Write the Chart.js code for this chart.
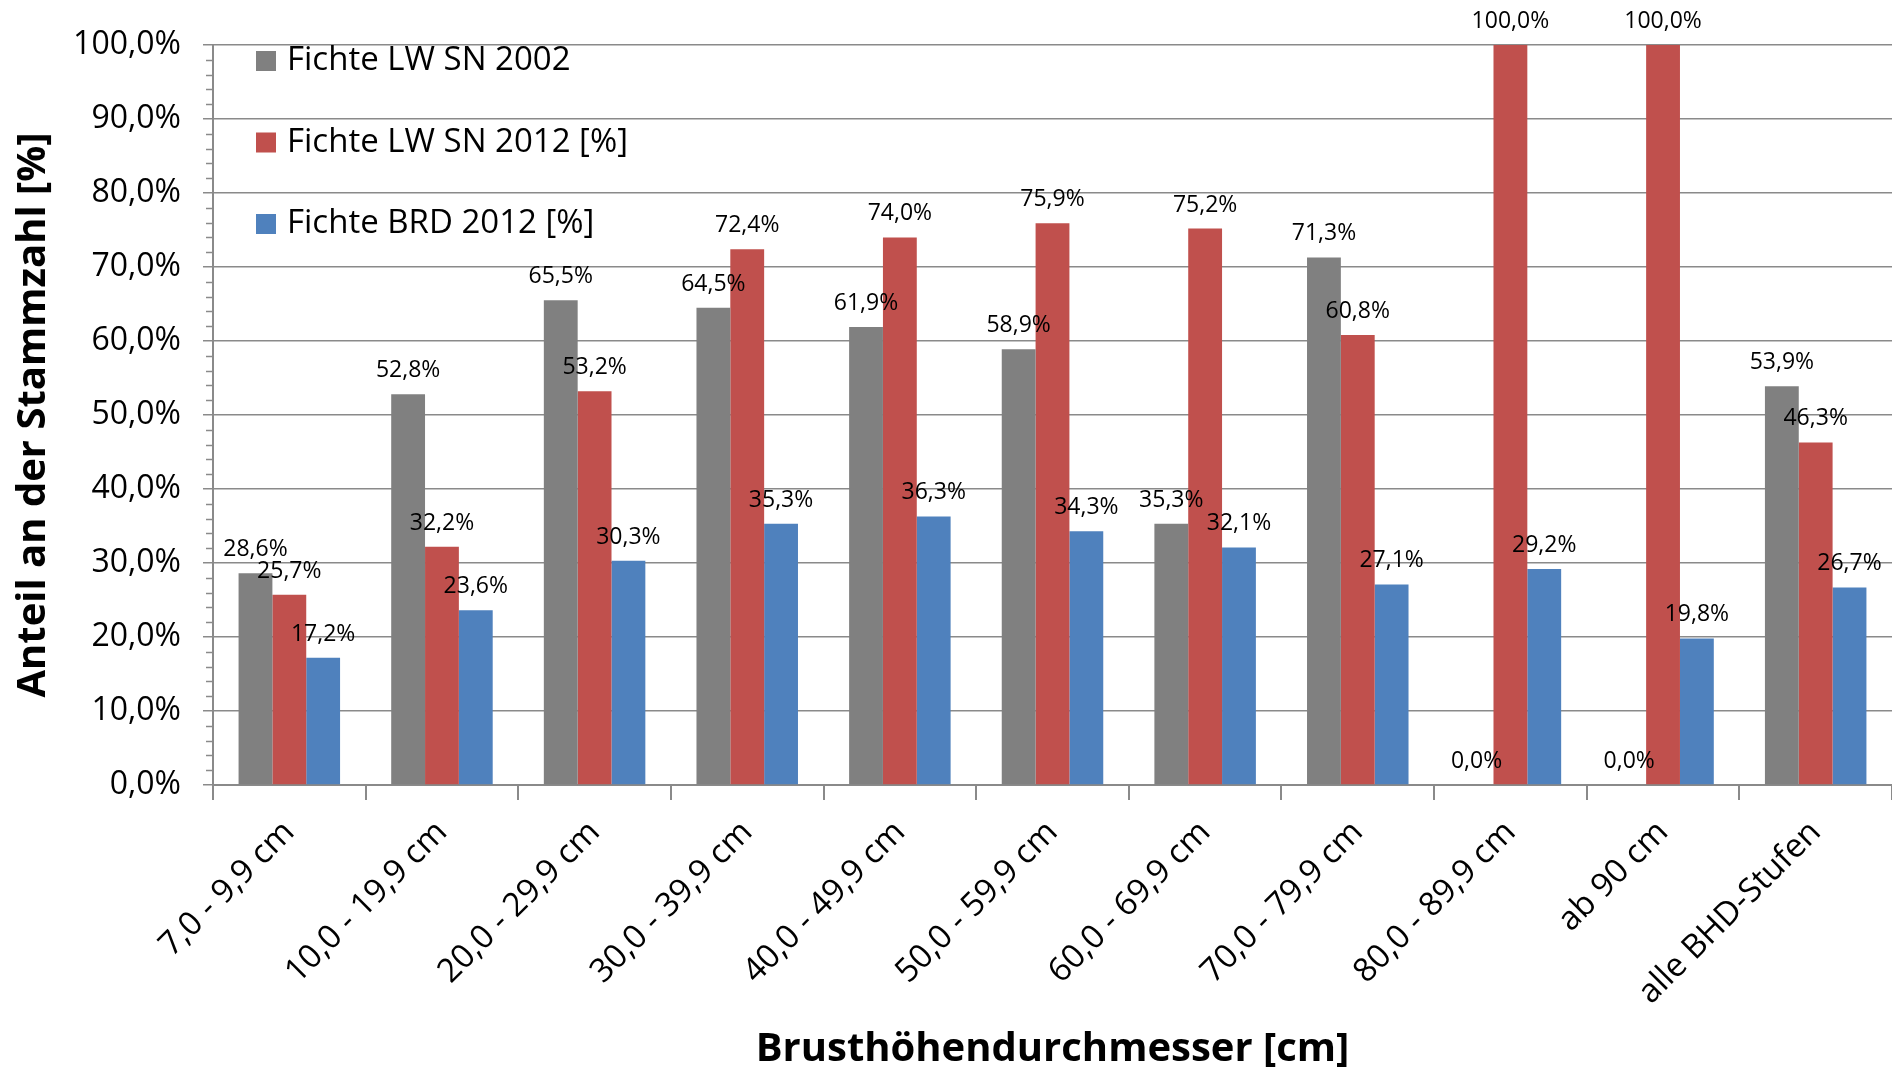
<!DOCTYPE html>
<html>
<head>
<meta charset="utf-8">
<script src="https://cdn.jsdelivr.net/npm/chart.js@4"></script>
<style>
  html, body { margin: 0; padding: 0; background: #fff; overflow: hidden; }
  #wrap { width: 1892px; height: 1075px; }
</style>
</head>
<body>
<div id="wrap"><canvas id="chart"></canvas></div>
<script>
    const categories = ['7,0 - 9,9 cm', '10,0 - 19,9 cm', '20,0 - 29,9 cm', '30,0 - 39,9 cm', '40,0 - 49,9 cm',
        '50,0 - 59,9 cm', '60,0 - 69,9 cm', '70,0 - 79,9 cm', '80,0 - 89,9 cm', 'ab 90 cm', 'alle BHD-Stufen'];
    const sn2002 = [28.6, 52.8, 65.5, 64.5, 61.9, 58.9, 35.3, 71.3, 0.0, 0.0, 53.9];
    const sn2012 = [25.7, 32.2, 53.2, 72.4, 74.0, 75.9, 75.2, 60.8, 100.0, 100.0, 46.3];
    const brd2012 = [17.2, 23.6, 30.3, 35.3, 36.3, 34.3, 32.1, 27.1, 29.2, 19.8, 26.7];
    const seriesNames = ['Fichte LW SN 2002', 'Fichte LW SN 2012 [%]', 'Fichte BRD 2012 [%]'];
    const colors = ['#808080', '#c0504d', '#4f81bd'];

    const axisGray = '#8a8a8a';
    const fontFamily = '"Open Sans", sans-serif';

    function pct(v) {
        return v.toFixed(1).replace('.', ',') + '%';
    }

    // value labels above each bar
    const valueLabels = {
        id: 'valueLabels',
        afterDatasetsDraw(chart) {
            const ctx = chart.ctx;
            ctx.save();
            ctx.font = '23px ' + fontFamily;
            ctx.fillStyle = '#000';
            ctx.textAlign = 'center';
            ctx.textBaseline = 'alphabetic';
            chart.data.datasets.forEach((ds, i) => {
                chart.getDatasetMeta(i).data.forEach((bar, j) => {
                    ctx.fillText(pct(ds.data[j]), bar.x, bar.y - 17);
                });
            });
            ctx.restore();
        }
    };

    // small ticks between the major y ticks
    const minorTicks = {
        id: 'minorTicks',
        afterDraw(chart) {
            const y = chart.scales.y;
            const ctx = chart.ctx;
            ctx.save();
            ctx.strokeStyle = axisGray;
            ctx.lineWidth = 1.5;
            for (let v = 2; v < 100; v += 2) {
                if (v % 10 === 0) continue;
                const py = Math.round(y.getPixelForValue(v)) + 0.5;
                ctx.beginPath();
                ctx.moveTo(y.right - 7, py);
                ctx.lineTo(y.right, py);
                ctx.stroke();
            }
            ctx.restore();
        }
    };

    // legend inside the plot, stacked at the top left
    const insideLegend = {
        id: 'insideLegend',
        afterDraw(chart) {
            const { ctx, chartArea } = chart;
            ctx.save();
            ctx.font = '33px ' + fontFamily;
            ctx.textBaseline = 'middle';
            ctx.textAlign = 'left';
            chart.data.datasets.forEach((ds, i) => {
                const y = chartArea.top + 16 + i * 81.5;
                ctx.fillStyle = ds.backgroundColor;
                ctx.fillRect(chartArea.left + 43, y - 10, 20, 20);
                ctx.fillStyle = '#000';
                ctx.fillText(ds.label, chartArea.left + 74, y);
            });
            ctx.restore();
        }
    };

    new Chart(document.getElementById('chart'), {
        type: 'bar',
        data: {
            labels: categories,
            datasets: [sn2002, sn2012, brd2012].map((d, i) => ({
                label: seriesNames[i],
                data: d,
                backgroundColor: colors[i],
                borderWidth: 0,
                categoryPercentage: 0.665,
                barPercentage: 1.0,
            })),
        },
        options: {
            responsive: true,
            maintainAspectRatio: false,
            animation: false,
            layout: { padding: { top: 45, right: -4, bottom: 0, left: 0 } },
            plugins: {
                legend: { display: false },
                tooltip: { enabled: false },
            },
            scales: {
                x: {
                    grid: { display: true, drawOnChartArea: false, drawTicks: true, tickLength: 15, color: axisGray, lineWidth: 2, offset: true },
                    border: { display: true, color: axisGray, width: 2 },
                    ticks: {
                        font: { family: fontFamily, size: 33 },
                        color: '#000',
                        minRotation: 45,
                        maxRotation: 45,
                        autoSkip: false,
                        padding: 13,
                    },
                    title: {
                        display: true,
                        text: 'Brusthöhendurchmesser [cm]',
                        font: { family: fontFamily, size: 40, weight: 'bold' },
                        color: '#000',
                        padding: { top: 0, bottom: 1 },
                    },
                    afterFit: s => { s.height = 290; },
                },
                y: {
                    min: 0,
                    max: 100,
                    ticks: {
                        stepSize: 10,
                        callback: v => pct(v),
                        font: { family: fontFamily, size: 32 },
                        color: '#000',
                        padding: 22,
                    },
                    grid: { color: axisGray, lineWidth: 1.5, tickLength: 10 },
                    border: { display: true, color: axisGray, width: 2 },
                    title: {
                        display: true,
                        text: 'Anteil an der Stammzahl [%]',
                        font: { family: fontFamily, size: 40, weight: 'bold' },
                        color: '#000',
                        padding: { top: 10, bottom: 0 },
                    },
                    afterFit: s => { s.width = 213; },
                },
            },
        },
        plugins: [valueLabels, minorTicks, insideLegend],
    });
</script>
</body>
</html>
